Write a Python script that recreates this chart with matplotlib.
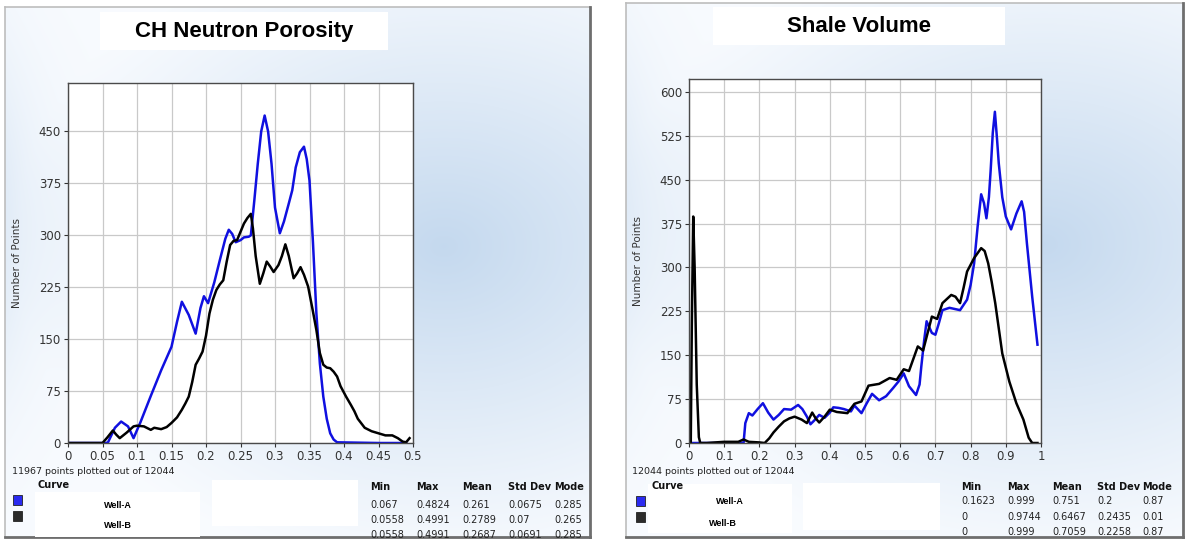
import numpy as np
import matplotlib
matplotlib.use("Agg")
import matplotlib.pyplot as plt
from matplotlib.patches import Rectangle

# CH Neutron Porosity histogram curves
nphi_a_x = [0.0, 0.055, 0.058, 0.068, 0.077, 0.087, 0.095, 0.105, 0.12, 0.135, 0.15, 0.158, 0.165, 0.175,
            0.185, 0.192, 0.197, 0.203, 0.212, 0.22, 0.228, 0.233, 0.238, 0.243, 0.25, 0.255, 0.262, 0.265,
            0.27, 0.275, 0.28, 0.285, 0.29, 0.295, 0.3, 0.307, 0.313, 0.32, 0.325, 0.33, 0.336, 0.342, 0.346,
            0.35, 0.355, 0.36, 0.365, 0.37, 0.375, 0.38, 0.385, 0.39, 0.45, 0.49]
nphi_a_y = [0, 0, 1, 22, 31, 24, 7, 30, 68, 105, 139, 175, 204, 185, 158, 195, 212, 202, 232, 264, 295, 308,
            302, 290, 293, 297, 298, 300, 350, 403, 450, 473, 450, 403, 340, 303, 320, 346, 365, 398, 420, 428,
            410, 379, 290, 187, 115, 67, 35, 14, 5, 1, 0, 0]
nphi_b_x = [0.0, 0.05, 0.057, 0.065, 0.07, 0.075, 0.085, 0.095, 0.1, 0.11, 0.12, 0.125, 0.135, 0.143, 0.15,
            0.158, 0.165, 0.17, 0.175, 0.18, 0.185, 0.19, 0.195, 0.2, 0.205, 0.21, 0.215, 0.22, 0.225, 0.23,
            0.235, 0.24, 0.245, 0.25, 0.255, 0.26, 0.265, 0.268, 0.272, 0.278, 0.283, 0.288, 0.293, 0.298,
            0.305, 0.31, 0.315, 0.32, 0.327, 0.332, 0.337, 0.342, 0.348, 0.355, 0.36, 0.365, 0.37, 0.375,
            0.38, 0.385, 0.39, 0.395, 0.403, 0.41, 0.415, 0.42, 0.43, 0.44, 0.45, 0.46, 0.47, 0.478, 0.485,
            0.49, 0.495]
nphi_b_y = [0, 0, 8, 18, 12, 7, 15, 24, 25, 24, 19, 22, 20, 23, 29, 37, 48, 57, 67, 88, 113, 122, 132, 155, 187,
            207, 221, 229, 235, 262, 286, 292, 293, 305, 317, 325, 331, 310, 270, 230, 245, 262, 255, 247, 257,
            270, 287, 270, 238, 245, 254, 243, 226, 190, 163, 130, 113, 109, 108, 103, 96, 82, 67, 55, 46, 35,
            22, 17, 14, 11, 11, 7, 2, 1, 7]

# Shale Volume histogram curves
vsh_a_x = [0.0, 0.155, 0.16, 0.17, 0.18, 0.195, 0.21, 0.225, 0.24, 0.255, 0.27, 0.29, 0.31, 0.322, 0.335,
           0.345, 0.355, 0.37, 0.385, 0.4, 0.41, 0.425, 0.44, 0.46, 0.47, 0.49, 0.505, 0.52, 0.54, 0.56,
           0.58, 0.595, 0.61, 0.625, 0.645, 0.655, 0.66, 0.668, 0.675, 0.69, 0.7, 0.71, 0.72, 0.74, 0.755,
           0.77, 0.79, 0.8, 0.81, 0.82, 0.83, 0.838, 0.845, 0.852, 0.857, 0.863, 0.869, 0.875, 0.88, 0.89,
           0.9, 0.915, 0.93, 0.945, 0.952, 0.96, 0.975, 0.99]
vsh_a_y = [0, 0, 34, 51, 47, 58, 68, 52, 40, 48, 58, 57, 65, 58, 45, 32, 38, 48, 43, 52, 61, 60, 58, 54, 64,
           51, 68, 84, 73, 80, 94, 105, 119, 97, 82, 100, 131, 175, 208, 188, 185, 205, 227, 231, 229, 227,
           245, 270, 307, 370, 425, 410, 384, 420, 466, 530, 566, 520, 478, 420, 387, 365, 392, 413, 395, 341,
           250, 168]
vsh_b_x = [0.0, 0.005, 0.008, 0.012, 0.016, 0.022, 0.028, 0.032, 0.05, 0.1, 0.14, 0.155, 0.17, 0.2, 0.215,
           0.228, 0.24, 0.255, 0.27, 0.285, 0.3, 0.32, 0.335, 0.35, 0.36, 0.37, 0.385, 0.4, 0.42, 0.45, 0.47,
           0.49, 0.51, 0.54, 0.57, 0.59, 0.61, 0.625, 0.65, 0.665, 0.69, 0.705, 0.72, 0.745, 0.757, 0.77,
           0.78, 0.79, 0.81, 0.83, 0.84, 0.85, 0.86, 0.87, 0.89, 0.91, 0.93, 0.95, 0.965, 0.975, 0.99]
vsh_b_y = [0, 0, 200, 387, 300, 100, 10, 0, 0, 2, 2, 6, 2, 1, 0, 8, 18, 28, 37, 42, 45, 40, 34, 52, 42, 35,
           45, 57, 53, 51, 67, 71, 98, 101, 111, 108, 126, 123, 165, 158, 216, 212, 239, 253, 250, 239, 265,
           293, 316, 333, 328, 307, 275, 239, 153, 105, 68, 40, 9, 0, 0]

# stats tables
stat_cols = ["Min", "Max", "Mean", "Std Dev", "Mode"]
nphi_stats = [["0.067", "0.4824", "0.261", "0.0675", "0.285"],
              ["0.0558", "0.4991", "0.2789", "0.07", "0.265"],
              ["0.0558", "0.4991", "0.2687", "0.0691", "0.285"]]
vsh_stats = [["0.1623", "0.999", "0.751", "0.2", "0.87"],
             ["0", "0.9744", "0.6467", "0.2435", "0.01"],
             ["0", "0.999", "0.7059", "0.2258", "0.87"]]

W, H = 1187, 540
BLUE = "#1010e0"
BLACK = "#000000"

fig = plt.figure(figsize=(W / 100, H / 100), dpi=100)
fig.patch.set_facecolor("white")
bg = fig.add_axes([0, 0, 1, 1])
bg.set_xlim(0, W)
bg.set_ylim(H, 0)
bg.axis("off")


def panel_background(x0, y0, x1, y1):
    xs = np.arange(x0, x1, 2.0)
    ys = np.arange(y0, y1, 2.0)
    gx, gy = np.meshgrid(xs, ys)
    cx = x0 + 0.75 * (x1 - x0)
    cy = y0 + 0.45 * (y1 - y0)
    d = np.sqrt(((gx - cx) / 430.0) ** 2 + ((gy - cy) / 330.0) ** 2)
    t = np.clip(1 - d, 0, 1) ** 1.1
    left = 0.45 * np.exp(-(gx - x0) / 45.0) * np.exp(-((gy - (y0 + 0.4 * (y1 - y0))) / 180.0) ** 2)
    t = np.clip(t + left, 0, 1)
    edge = np.array([0.975, 0.985, 0.998])
    center = np.array([0.77, 0.85, 0.935])
    img = edge[None, None, :] * (1 - t[..., None]) + center[None, None, :] * t[..., None]
    bg.imshow(img, extent=(x0, x1, y1, y0), aspect="auto", zorder=0, interpolation="bilinear")
    bg.plot([x0, x1], [y0, y0], color="#bdbdbd", lw=1.2, zorder=1)
    bg.plot([x0, x0], [y0, y1], color="#bdbdbd", lw=1.2, zorder=1)
    bg.plot([x1, x1], [y0, y1], color="#6e6e6e", lw=2.0, zorder=1)
    bg.plot([x0, x1], [y1, y1], color="#6e6e6e", lw=2.0, zorder=1)


def white_box(x0, y0, x1, y1):
    bg.add_patch(Rectangle((x0, y0), x1 - x0, y1 - y0, facecolor="white", edgecolor="none", zorder=2))


def legend_square(x, y, color):
    bg.add_patch(Rectangle((x, y), 9, 10, facecolor=color, edgecolor="#222222", lw=0.6, zorder=3))


def stats_block(xs, y_head, ys, rows):
    for x, name in zip(xs, stat_cols):
        bg.text(x, y_head, name, fontsize=7, fontweight="bold", color="#111111", va="center", zorder=3)
    for y, row in zip(ys, rows):
        for x, val in zip(xs, row):
            bg.text(x, y, val, fontsize=7, color="#222222", va="center", zorder=3)


# ---- left panel
panel_background(5, 7, 590, 537)
white_box(100, 12, 388, 50)
bg.text(244, 31, "CH Neutron Porosity", fontsize=16, fontweight="bold", family="Liberation Sans",
        ha="center", va="center", zorder=3)
bg.text(12, 471, "11967 points plotted out of 12044", fontsize=6.8, color="#222222", va="center", zorder=3)
bg.text(37, 485, "Curve", fontsize=7, fontweight="bold", color="#111111", va="center", zorder=3)
white_box(35, 492, 200, 537)
white_box(212, 480, 358, 526)
legend_square(13, 495, "#2a2af0")
legend_square(13, 511, "#2b2b2b")
bg.text(118, 505, "Well-A", fontsize=6.5, fontweight="bold", family="Liberation Sans", ha="center",
        va="center", zorder=3)
bg.text(118, 525, "Well-B", fontsize=6.5, fontweight="bold", family="Liberation Sans", ha="center",
        va="center", zorder=3)
stats_block([370, 416, 462, 508, 554], 487, [505, 520, 535], nphi_stats)

# ---- right panel
panel_background(626, 3, 1183, 537)
white_box(713, 7, 1005, 45)
bg.text(859, 27, "Shale Volume", fontsize=16, fontweight="bold", family="Liberation Sans",
        ha="center", va="center", zorder=3)
bg.text(632, 471, "12044 points plotted out of 12044", fontsize=6.8, color="#222222", va="center", zorder=3)
bg.text(651, 486, "Curve", fontsize=7, fontweight="bold", color="#111111", va="center", zorder=3)
white_box(648, 484, 792, 533)
white_box(803, 483, 940, 530)
legend_square(636, 496, "#2a2af0")
legend_square(636, 512, "#2b2b2b")
bg.text(730, 501, "Well-A", fontsize=6.5, fontweight="bold", family="Liberation Sans", ha="center",
        va="center", zorder=3)
bg.text(723, 523, "Well-B", fontsize=6.5, fontweight="bold", family="Liberation Sans", ha="center",
        va="center", zorder=3)
stats_block([961, 1007, 1052, 1097, 1142], 487, [501, 517, 532], vsh_stats)


def hist_axes(px0, py0, px1, py1, xmax, xticks, ymax, yticks):
    ax = fig.add_axes([px0 / W, (H - py1) / H, (px1 - px0) / W, (py1 - py0) / H])
    ax.set_facecolor("white")
    ax.set_xlim(0, xmax)
    ax.set_ylim(0, ymax)
    ax.set_xticks(xticks)
    ax.set_yticks(yticks)
    ax.set_xticklabels([f"{v:g}" for v in xticks])
    ax.grid(True, color="#c9c9c9", lw=0.9)
    ax.set_axisbelow(True)
    for s in ax.spines.values():
        s.set_color("#4a4a4a")
        s.set_linewidth(1.0)
    ax.tick_params(labelsize=8.5, colors="#333333", length=3, width=0.8, pad=2)
    ax.set_ylabel("Number of Points", fontsize=7.5, color="#333333", labelpad=12)
    return ax


ax1 = hist_axes(68, 83, 413, 443, 0.5, [0, 0.05, 0.1, 0.15, 0.2, 0.25, 0.3, 0.35, 0.4, 0.45, 0.5],
                520, [0, 75, 150, 225, 300, 375, 450])
ax1.plot(nphi_a_x, nphi_a_y, color=BLUE, lw=1.8, solid_joinstyle="round")
ax1.plot(nphi_b_x, nphi_b_y, color=BLACK, lw=1.8, solid_joinstyle="round")

ax2 = hist_axes(689, 79, 1041, 443, 1.0, [0, 0.1, 0.2, 0.3, 0.4, 0.5, 0.6, 0.7, 0.8, 0.9, 1.0],
                622, [0, 75, 150, 225, 300, 375, 450, 525, 600])
ax2.plot(vsh_a_x, vsh_a_y, color=BLUE, lw=1.8, solid_joinstyle="round")
ax2.plot(vsh_b_x, vsh_b_y, color=BLACK, lw=1.8, solid_joinstyle="round")

fig.savefig("out.png", dpi=100)
